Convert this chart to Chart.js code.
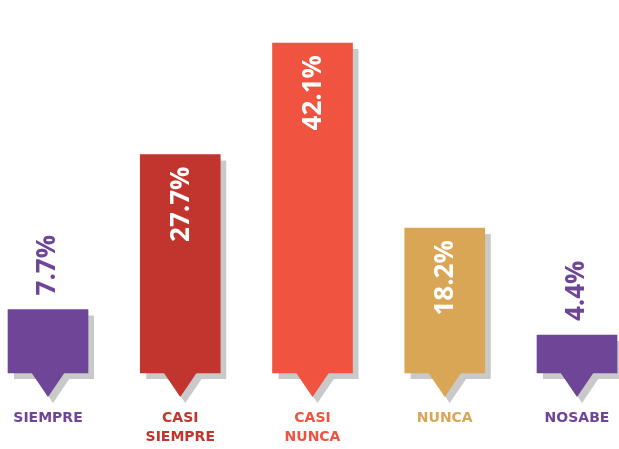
<!DOCTYPE html>
<html>
<head>
<meta charset="utf-8">
<script src="https://cdn.jsdelivr.net/npm/chart.js@4"></script>
<style>
  html, body { margin: 0; padding: 0; background: #ffffff; }
  #wrap { width: 619px; height: 449px; }
</style>
</head>
<body>
<div id="wrap"><canvas id="myChart"></canvas></div>
<script>
'use strict';

// chart data

let categories = ['SIEMPRE', 'CASI SIEMPRE', 'CASI NUNCA', 'NUNCA', 'NOSABE'];
let labelLines = [['SIEMPRE'], ['CASI', 'SIEMPRE'], ['CASI', 'NUNCA'], ['NUNCA'], ['NOSABE']];
let percentages = [7.7, 27.7, 42.1, 18.2, 4.4];
let barColors = ['#6f4598', '#c1352e', '#f05340', '#d9a655', '#6f4598'];

let shadowColor = '#c9c9c9';
let shadowX = 6;
let shadowY = 6;
let pointerWidth = 34;
let pointerHeight = 25;

function pointerPath(ctx, x, top) {
  ctx.beginPath();
  ctx.moveTo(x - pointerWidth / 2, top);
  ctx.lineTo(x + pointerWidth / 2, top);
  ctx.lineTo(x, top + pointerHeight);
  ctx.closePath();
}

// gray shadows behind the bars, then pointers, values and names on top
let calloutPlugin = {
  id: 'callout',
  beforeDatasetsDraw(chart) {
    let ctx = chart.ctx;
    let bars = chart.getDatasetMeta(0).data;
    ctx.save();
    ctx.fillStyle = shadowColor;
    bars.forEach(function (bar) {
      let w = bar.width;
      ctx.fillRect(bar.x - w / 2 + shadowX, bar.y + shadowY, w, bar.base - bar.y);
      pointerPath(ctx, bar.x + shadowX - 1, bar.base + shadowY - 1);
      ctx.fill();
    });
    ctx.restore();
  },
  afterDatasetsDraw(chart) {
    let ctx = chart.ctx;
    let bars = chart.getDatasetMeta(0).data;
    ctx.save();
    bars.forEach(function (bar, i) {
      ctx.fillStyle = barColors[i];
      pointerPath(ctx, bar.x, bar.base - 1);
      ctx.fill();

      // value label, rotated to read upwards
      let inside = percentages[i] >= 10;
      ctx.save();
      ctx.font = 'bold 26px "Open Sans"';
      ctx.textBaseline = 'middle';
      if (inside) {
        ctx.translate(bar.x + 1, bar.y + 12);
        ctx.textAlign = 'right';
        ctx.fillStyle = '#ffffff';
      } else {
        ctx.translate(bar.x, bar.y - 14);
        ctx.textAlign = 'left';
        ctx.fillStyle = barColors[i];
      }
      ctx.rotate(-Math.PI / 2);
      ctx.fillText(percentages[i] + '%', 0, 0);
      ctx.restore();

      // category name under the pointer
      ctx.font = 'bold 14px "DejaVu Sans"';
      ctx.textAlign = 'center';
      ctx.textBaseline = 'middle';
      ctx.fillStyle = barColors[i];
      labelLines[i].forEach(function (line, j) {
        ctx.fillText(line, bar.x, bar.base + 45 + j * 19);
      });
    });
    ctx.restore();
  }
};

function renderChart() {
  const ctx = document.getElementById('myChart').getContext('2d');

  const myChart = new Chart(ctx, {
    type: 'bar',
    data: {
      labels: categories,
      datasets: [
        {
          data: percentages,
          backgroundColor: barColors,
          borderWidth: 0,
          barThickness: 80,
          base: -0.5,
          clip: false
        }
      ]
    },
    options: {
      responsive: true,
      maintainAspectRatio: false,
      animation: false,
      layout: {
        padding: { left: 48, right: 42, top: 43, bottom: 76 }
      },
      plugins: {
        legend: { display: false },
        tooltip: { enabled: false }
      },
      scales: {
        x: {
          display: false,
          offset: false
        },
        y: {
          display: false,
          min: -0.5,
          max: 42.1
        }
      }
    },
    plugins: [calloutPlugin]
  });

  console.log(myChart);
}

renderChart();
</script>
</body>
</html>
